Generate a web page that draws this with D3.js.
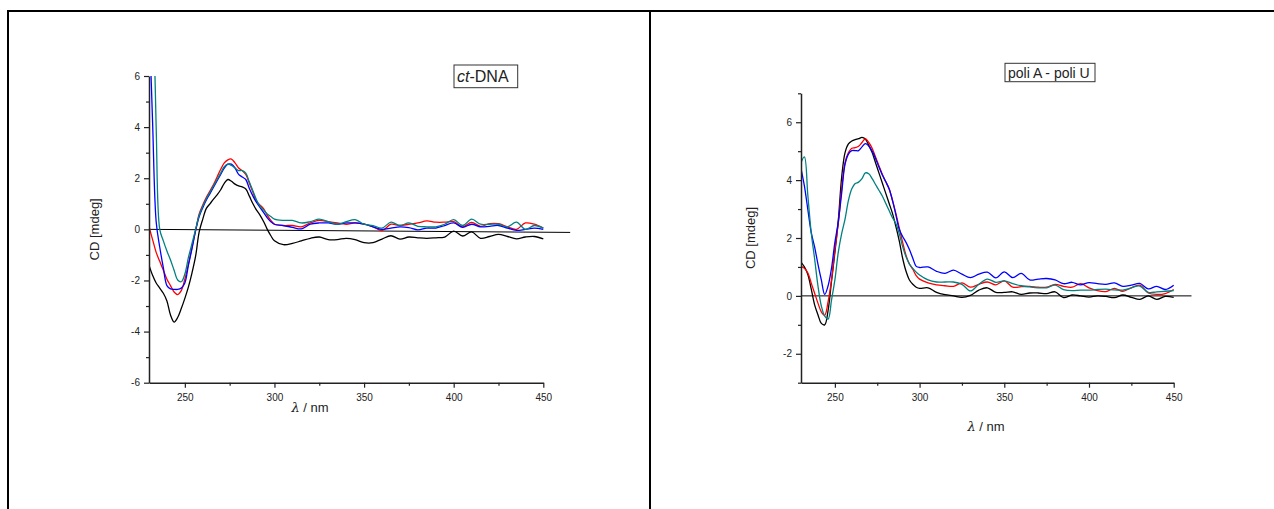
<!DOCTYPE html>
<html><head><meta charset="utf-8">
<script src="https://cdn.jsdelivr.net/npm/d3@7"></script>
<style>body{margin:0;background:#fff}svg{display:block}text{font-family:"Liberation Sans",Arial,sans-serif}</style>
</head><body><svg id="c" width="1274" height="509"></svg>
<script>
// shared wavelength grid (nm)
const wavelengths = [230,232,234,236,238,240,242,244,246,248,250,252,254,256,258,260,262,264,266,268,270,272,274,276,278,280,282,284,286,288,290,292,294,296,298,300,
  305,310,315,320,325,330,335,340,345,350,355,360,365,370,375,380,385,390,395,400,405,410,415,420,425,430,435,440,445,450];

// ct-DNA panel
const ctBlack = [-1.4,-1.8,-2.1,-2.3,-2.5,-2.8,-3.35,-3.63,-3.45,-3.1,-2.7,-2.25,-1.7,-1.05,-0.1,0.4,0.82,1.0,1.18,1.35,1.55,1.8,1.95,1.88,1.77,1.7,1.66,1.58,1.3,1.0,0.75,0.55,0.3,0.0,-0.25,-0.45,
  -0.6,-0.55,-0.45,-0.35,-0.3,-0.4,-0.4,-0.35,-0.4,-0.52,-0.52,-0.38,-0.25,-0.38,-0.3,-0.33,-0.35,-0.33,-0.3,-0.07,-0.26,-0.1,-0.35,-0.28,-0.2,-0.28,-0.37,-0.3,-0.28,-0.37];
const ctRed = [0.1,-0.4,-0.9,-1.25,-1.6,-1.95,-2.2,-2.45,-2.55,-2.4,-1.95,-1.35,-0.7,-0.05,0.6,0.95,1.25,1.5,1.75,2.05,2.35,2.6,2.72,2.75,2.6,2.4,2.3,2.15,1.8,1.45,1.1,0.95,0.8,0.55,0.35,0.2,
  0.15,0.15,0.1,0.25,0.35,0.3,0.25,0.2,0.25,0.2,0.1,-0.05,0.2,0.15,0.2,0.25,0.33,0.28,0.28,0.3,0.1,0.27,0.12,0.22,0.22,0.1,0.0,0.25,0.2,0.05];
const ctBlue = [8.5,4.2,0.3,-0.7,-1.5,-2.2,-2.33,-2.35,-2.35,-2.3,-2.1,-1.4,-0.75,-0.05,0.5,0.85,1.15,1.4,1.65,1.9,2.15,2.4,2.55,2.55,2.4,2.15,2.05,1.95,1.6,1.3,1.05,0.85,0.65,0.45,0.3,0.2,
  0.15,0.08,0.02,0.2,0.25,0.25,0.2,0.25,0.25,0.2,0.1,0.0,0.05,0.1,0.07,-0.02,0.05,0.05,0.15,0.25,0.08,0.2,0.1,0.12,0.15,0.05,-0.04,0.0,0.05,0.0];
const ctTeal = [14,10,4.0,0.0,-0.45,-0.85,-1.2,-1.6,-1.98,-2.05,-1.75,-1.1,-0.55,0.0,0.55,0.9,1.2,1.45,1.7,1.95,2.2,2.45,2.55,2.5,2.4,2.3,2.3,2.2,1.85,1.5,1.15,0.9,0.75,0.6,0.5,0.4,
  0.35,0.35,0.25,0.3,0.4,0.3,0.2,0.3,0.38,0.2,0.15,0.05,0.28,0.15,0.25,0.12,0.1,0.1,0.2,0.38,0.15,0.4,0.2,0.2,0.2,0.1,0.28,0.0,0.15,0.05];

// poli A - poli U panel
const paBlack = [1.17,1.0,0.75,0.25,-0.3,-0.65,-0.95,-1.0,-0.5,0.5,1.5,2.6,4.1,4.95,5.25,5.35,5.4,5.43,5.48,5.42,5.2,4.95,4.6,4.25,3.9,3.55,3.2,2.85,2.4,1.9,1.3,0.85,0.55,0.4,0.3,0.26,
  0.28,0.12,0.04,0.0,-0.05,0.02,0.2,0.28,0.12,0.12,0.14,0.05,0.1,0.1,0.08,0.14,-0.06,0.03,0.0,-0.04,0.0,-0.02,-0.06,0.03,-0.05,-0.12,0.0,-0.12,-0.02,-0.05];
const paRed = [1.02,0.95,0.8,0.45,0.1,-0.25,-0.55,-0.67,-0.2,0.55,1.58,2.5,3.7,4.6,4.95,5.1,5.12,5.17,5.3,5.43,5.3,5.1,4.8,4.5,4.2,3.95,3.7,3.3,2.85,2.35,1.85,1.4,1.1,0.92,0.7,0.58,
  0.45,0.38,0.35,0.33,0.45,0.3,0.4,0.48,0.38,0.52,0.3,0.32,0.33,0.3,0.3,0.4,0.33,0.3,0.42,0.28,0.18,0.15,0.26,0.16,0.28,0.37,0.1,0.05,0.08,0.22];
const paBlue = [4.4,3.8,3.0,2.2,1.7,1.1,0.55,0.05,0.35,0.95,1.85,2.55,3.55,4.55,4.9,5.02,5.02,5.02,5.15,5.26,5.18,5.0,4.75,4.45,4.18,3.95,3.7,3.3,2.8,2.3,2.05,1.85,1.6,1.3,1.02,0.98,
  1.0,0.85,0.78,0.89,0.75,0.63,0.75,0.82,0.62,0.83,0.63,0.78,0.55,0.58,0.6,0.55,0.42,0.47,0.38,0.46,0.42,0.4,0.45,0.33,0.37,0.43,0.24,0.33,0.22,0.37];
const paTeal = [4.6,4.8,3.5,2.2,1.3,0.35,-0.35,-0.7,-0.8,-0.15,0.55,1.5,2.15,2.65,3.3,3.7,3.88,3.93,4.05,4.25,4.22,4.05,3.85,3.65,3.45,3.2,2.95,2.7,2.5,2.15,1.7,1.35,1.1,0.95,0.82,0.72,
  0.55,0.48,0.48,0.48,0.4,0.17,0.4,0.58,0.47,0.52,0.42,0.35,0.31,0.28,0.28,0.37,0.22,0.18,0.2,0.2,0.22,0.23,0.21,0.2,0.28,0.34,0.12,0.14,0.16,0.18];

// axes / ticks
const xTicks = [250,300,350,400,450];
const xMinorTicks = [275,325,375,425];
const ctYTicks = [-6,-4,-2,0,2,4,6];
const ctYMinor = [-5,-3,-1,1,3,5];
const paYTicks = [-2,0,2,4,6];
const paYMinor = [-3,-1,1,3,5,7];
const ctBaseline = [[230,0],[465,-0.12]];
const paBaseline = [[230,0],[460.5,0]];
const seriesColors = ["#000000","#ff0000","#0000ff","#008080"];

const svg = d3.select("#c");

// frame
svg.append("path").attr("d","M8,509V11H1274M650,11V509").attr("fill","none").attr("stroke","#000").attr("stroke-width",2);

const fmt = d => String(d);

function panel(o){
  const x = d3.scaleLinear().domain([230,450]).range(o.xr);
  const y = d3.scaleLinear().domain(o.yd).range(o.yr);
  const g = svg.append("g");
  const clipId = "clip"+o.id;
  svg.append("clipPath").attr("id",clipId).append("rect")
    .attr("x",o.xr[0]).attr("y",o.yr[1]).attr("width",o.xr[1]-o.xr[0]+30).attr("height",o.yr[0]-o.yr[1]);
  // baseline
  g.append("path").datum(o.base)
    .attr("d",d3.line().x(d=>x(d[0])).y(d=>y(d[1])))
    .attr("stroke","#000").attr("stroke-width",1).attr("fill","none");
  const line = d3.line().x((d,i)=>x(wavelengths[i])).y(d=>y(d)).curve(d3.curveCatmullRom.alpha(0.5));
  const lg = g.append("g").attr("clip-path",`url(#${clipId})`);
  o.series.forEach((s,k)=>{
    lg.append("path").datum(s).attr("d",line).attr("fill","none")
      .attr("stroke",seriesColors[k]).attr("stroke-width",1.3).attr("stroke-linejoin","round");
  });
  // axes
  g.append("g").attr("transform",`translate(0,${o.yr[0]})`)
    .call(d3.axisBottom(x).tickValues(xTicks).tickFormat(fmt).tickSize(5).tickPadding(6).tickSizeOuter(0));
  g.append("g").attr("transform",`translate(0,${o.yr[0]})`)
    .call(d3.axisBottom(x).tickValues(xMinorTicks).tickSize(3).tickFormat("").tickSizeOuter(0))
    .select(".domain").remove();
  g.append("g").attr("transform",`translate(${o.xr[0]},0)`)
    .call(d3.axisLeft(y).tickValues(o.yt).tickFormat(fmt).tickSize(5).tickPadding(4).tickSizeOuter(0));
  g.append("g").attr("transform",`translate(${o.xr[0]},0)`)
    .call(d3.axisLeft(y).tickValues(o.ym).tickSize(3).tickFormat("").tickSizeOuter(0))
    .select(".domain").remove();
  g.selectAll(".domain").attr("stroke","#222").attr("stroke-width",1.5);
  g.selectAll(".tick line").attr("stroke","#222").attr("stroke-width",1.2);
  g.selectAll(".tick text").attr("font-size",10).attr("fill","#222").attr("font-family",'"Liberation Sans",Arial,sans-serif');
  // titles
  g.append("text").attr("transform",`translate(${o.ytx},${(o.yr[0]+o.yr[1])/2}) rotate(-90)`)
    .attr("text-anchor","middle").attr("dy","0.35em").attr("font-size",13).attr("fill","#222").text("CD [mdeg]");
  const xt = g.append("text").attr("x",o.xtx).attr("y",o.xty).attr("text-anchor","middle").attr("font-size",13).attr("fill","#222");
  xt.append("tspan").attr("font-style","italic").attr("font-family",'"DejaVu Serif",serif').text("λ");
  xt.append("tspan").text(" / nm");
  // label box
  const lt = g.append("text").attr("x",o.lx).attr("y",o.ly).attr("font-size",o.lfs).attr("fill","#222");
  o.label(lt);
  g.append("rect").attr("x",o.box[0]).attr("y",o.box[1]).attr("width",o.box[2]).attr("height",o.box[3])
    .attr("fill","none").attr("stroke","#333").attr("stroke-width",1);
}

panel({id:"ct", xr:[149,543.3], yd:[-6,6], yr:[382.7,76], yt:ctYTicks, ym:ctYMinor, base:ctBaseline,
  series:[ctBlack,ctRed,ctBlue,ctTeal], ytx:94, xtx:310, xty:412,
  lx:457, ly:82, lfs:16, box:[454,65,63.7,22.7],
  label:t=>{t.append("tspan").attr("font-style","italic").text("ct"); t.append("tspan").text("-DNA");}});

panel({id:"pa", xr:[801,1173.7], yd:[-3,7], yr:[382.7,93.3], yt:paYTicks, ym:paYMinor, base:paBaseline,
  series:[paBlack,paRed,paBlue,paTeal], ytx:750, xtx:986, xty:431,
  lx:1008, ly:78, lfs:14, box:[1005,63.3,90,18.4],
  label:t=>{t.text("poli A - poli U");}});
</script>
</body></html>
